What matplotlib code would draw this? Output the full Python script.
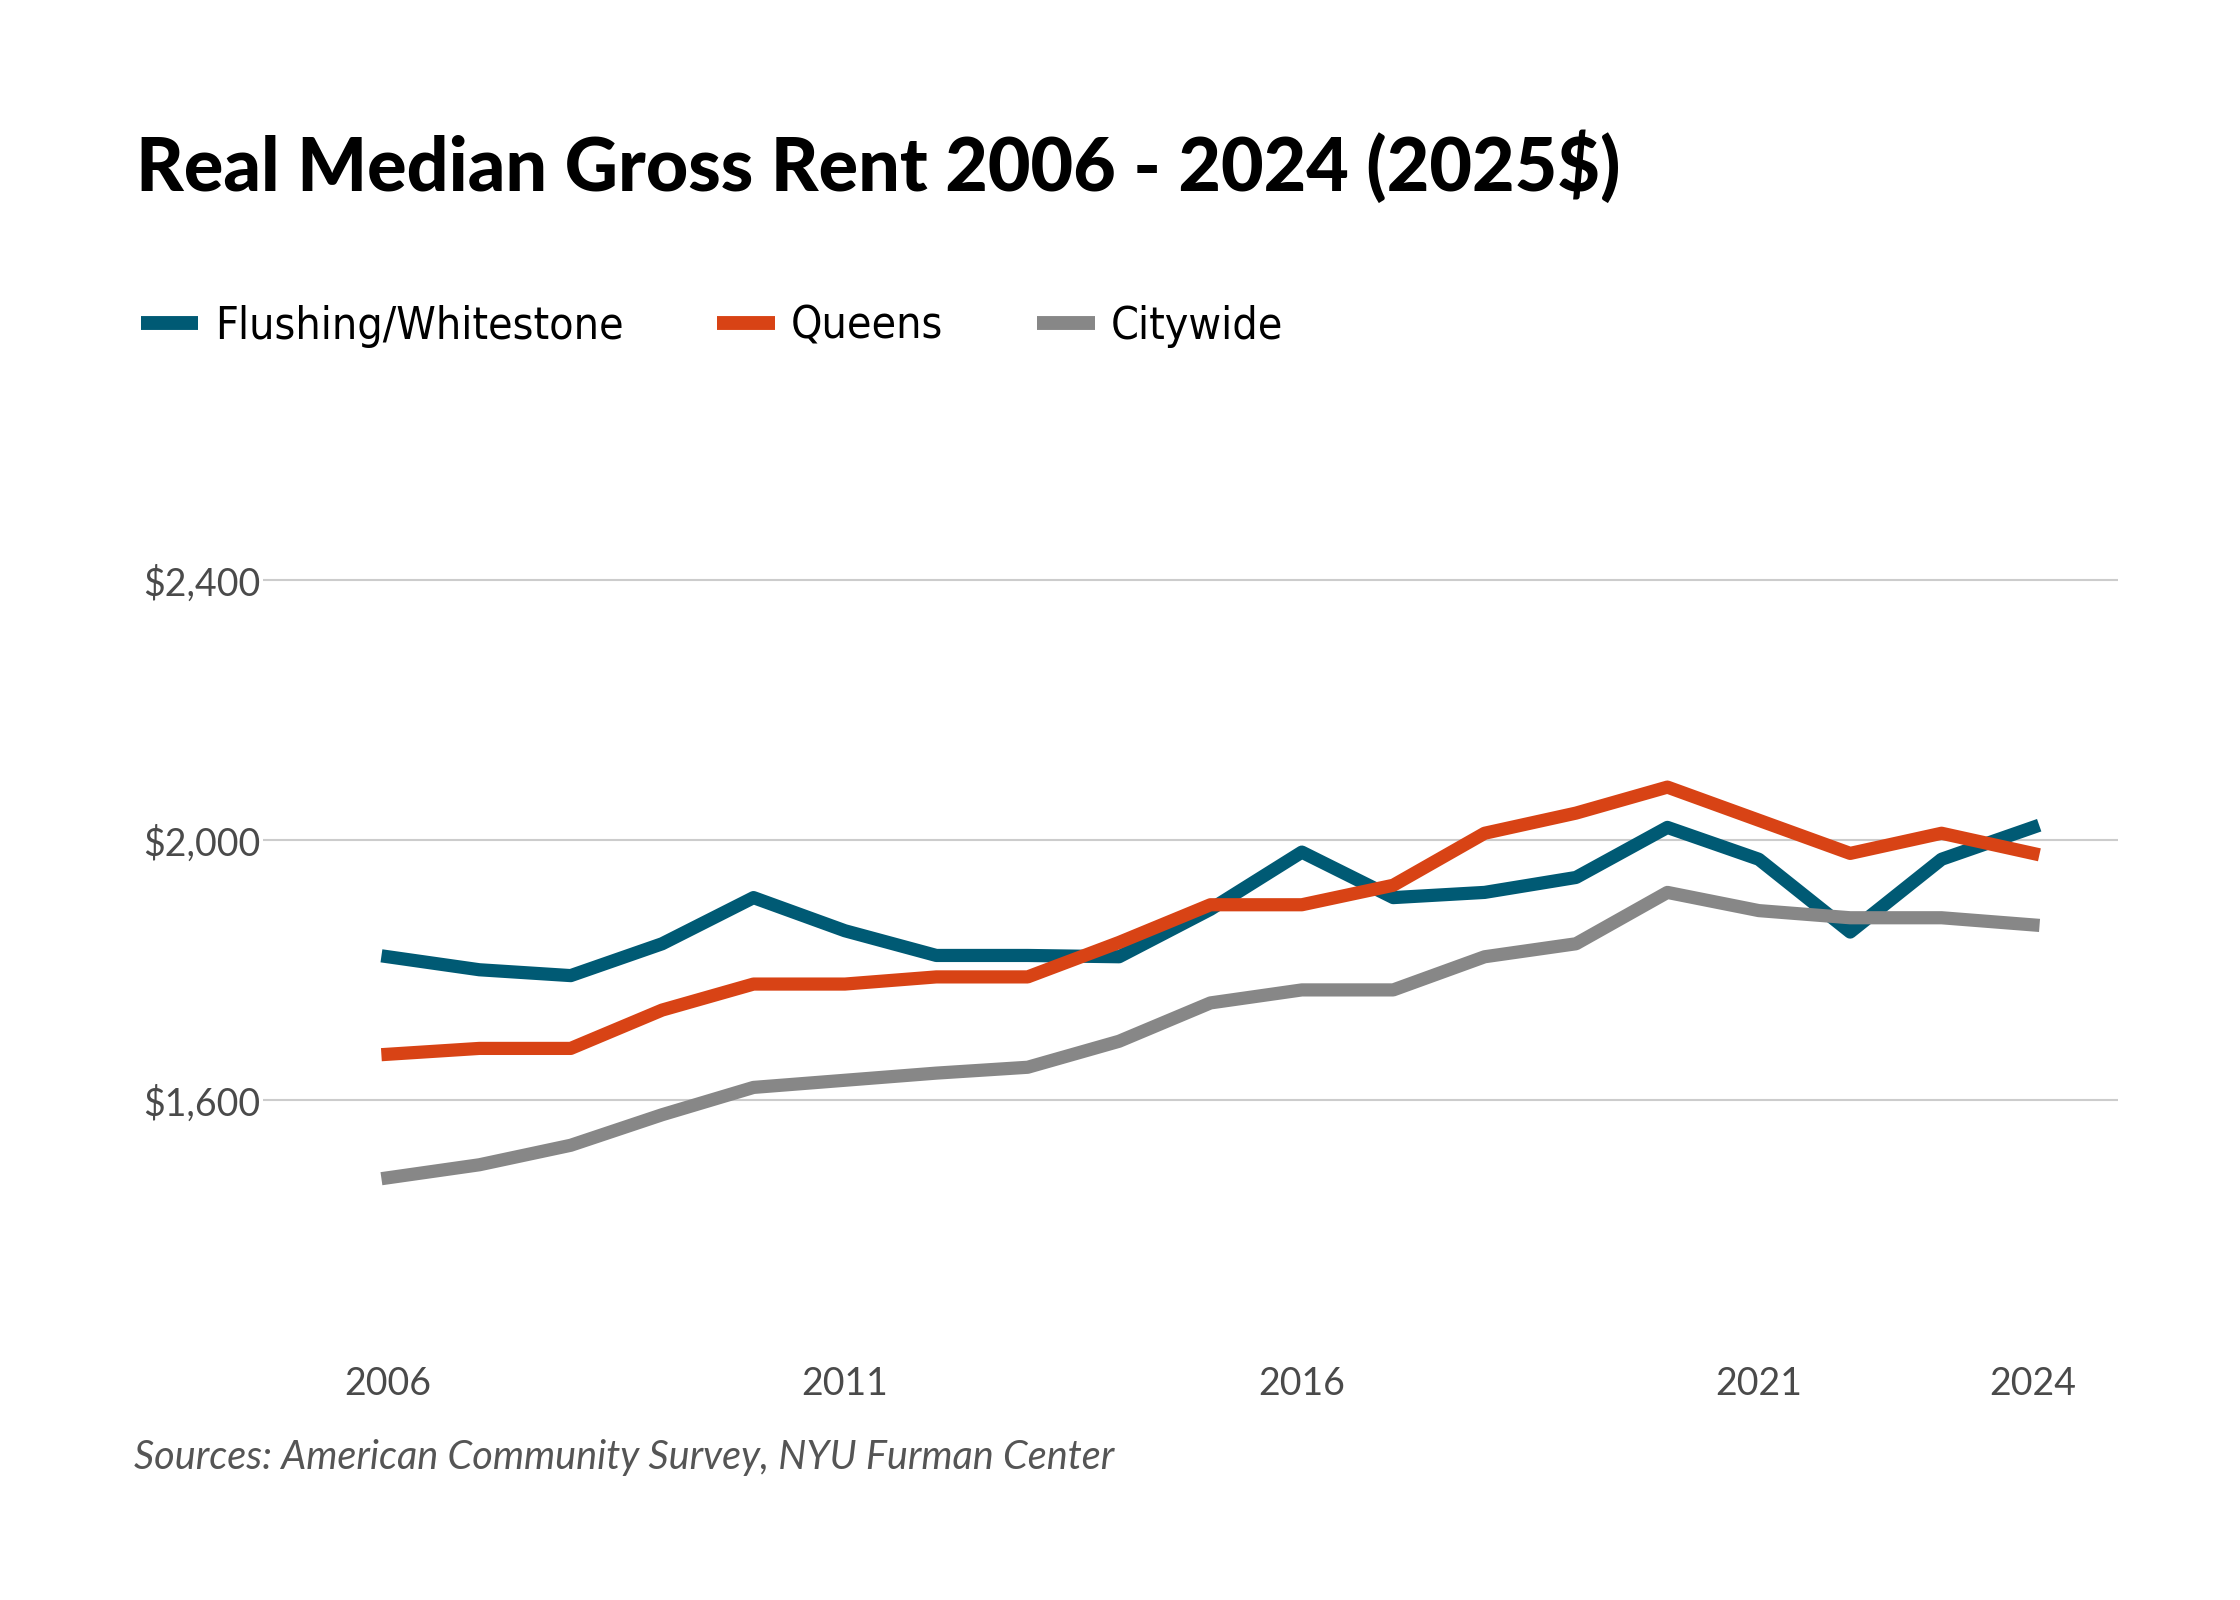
import matplotlib
matplotlib.use("Agg")
from matplotlib import pyplot as plt
from matplotlib.ticker import FuncFormatter

years = list(range(2006, 2025))
flushing = [1821, 1801, 1792, 1841, 1912, 1861, 1823, 1823, 1821, 1894,
            1982, 1912, 1920, 1943, 2020, 1971, 1859, 1971, 2020]
queens = [1671, 1680, 1680, 1739, 1779, 1779, 1790, 1790, 1843, 1901,
          1901, 1931, 2011, 2042, 2082, 2031, 1980, 2011, 1980]
citywide = [1481, 1501, 1531, 1578, 1620, 1631, 1642, 1651, 1691, 1750,
            1770, 1770, 1821, 1841, 1920, 1892, 1881, 1881, 1870]
xticks = [2006, 2011, 2016, 2021, 2024]
yticks = [1600, 2000, 2400]

W, H = 1560, 1114  # layout measured on a 1560-wide view of the chart

fig = plt.figure(figsize=(22.4, 16), dpi=100)
ax = fig.add_axes([183 / W, 1 - 930 / H, (1475 - 183) / W, (930 - 300) / H])

ax.plot(years, flushing, color="#005a74", lw=9.5, label="Flushing/Whitestone")
ax.plot(years, queens, color="#d84315", lw=9.5, label="Queens")
ax.plot(years, citywide, color="#878787", lw=9.5, label="Citywide")

ax.set_xlim(2004.63, 2024.93)
ax.set_ylim(1238, 2630)
ax.set_xticks(xticks)
ax.set_yticks(yticks)
ax.yaxis.set_major_formatter(FuncFormatter(lambda v, p: "${:,.0f}".format(v)))
ax.grid(axis="y", color="#cccccc", lw=1.5)
ax.set_axisbelow(True)
for s in ax.spines.values():
    s.set_visible(False)
ax.tick_params(length=0, labelsize=27, labelcolor="#4a4a4a", pad=2)
ax.tick_params(axis="x", pad=22)
for lab in ax.get_xticklabels() + ax.get_yticklabels():
    lab.set_family("Lato")

fig.text(95 / W, 1 - 133 / H, "Real Median Gross Rent 2006 - 2024 (2025$)",
         fontsize=53, fontweight="black", family="Lato", va="baseline", ha="left")

leg = fig.legend(loc="center left", bbox_to_anchor=(98 / W, 1 - 227 / H), ncol=3,
                 frameon=False,
                 prop={"family": ["DejaVu Sans"], "stretch": "condensed", "size": 32},
                 handlelength=1.3, handletextpad=0.37, columnspacing=2.1, borderaxespad=0,
                 borderpad=0)
for h in leg.get_lines():
    h.set_linewidth(10)
    h.set_solid_capstyle("butt")

fig.text(93 / W, 1 - 1015 / H, "Sources: American Community Survey, NYU Furman Center",
         fontsize=28.5, style="italic", color="#555555", family="Lato",
         va="center", ha="left")

fig.savefig("out.png", dpi=100, facecolor="white")
